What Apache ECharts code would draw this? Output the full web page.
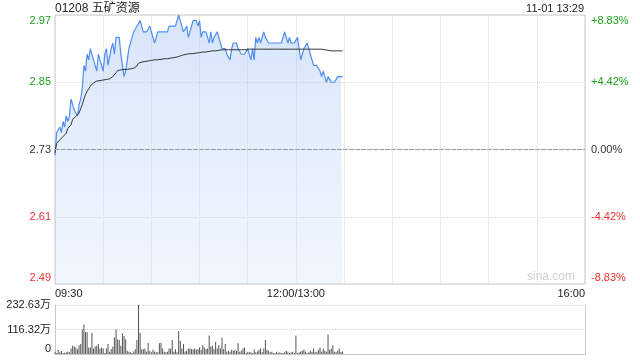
<!DOCTYPE html>
<html><head><meta charset="utf-8">
<script src="https://cdn.jsdelivr.net/npm/echarts@6/dist/echarts.min.js"></script>
<style>html,body{margin:0;padding:0;background:#fff}#c{width:640px;height:360px}</style>
</head><body><div id="c"></div>
<script>
const titleText = '01208 五矿资源';
const dateText = '11-01 13:29';
const prevClose = 2.73;
const axisMin = 2.49, axisMax = 2.97;
const leftTickLabels = ['2.49','2.61','2.73','2.85','2.97'];
const rightTickLabels = ['-8.83%','-4.42%','0.00%','+4.42%','+8.83%'];
const xTickLabels = ['09:30','','','','','12:00/13:00','','','','','','16:00'];
const volTickLabels = ['0','116.32万','232.63万'];
const volMax = 232.63;
const totalMinutes = 330;

const prices = [
2.72,2.76,2.76,2.77,2.76,2.78,2.77,2.79,2.78,2.79,
2.82,2.81,2.80,2.80,2.79,2.81,2.82,2.84,2.88,2.87,
2.90,2.89,2.91,2.91,2.89,2.88,2.87,2.90,2.89,2.88,
2.87,2.90,2.91,2.88,2.88,2.91,2.92,2.90,2.93,2.93,
2.93,2.90,2.88,2.86,2.87,2.89,2.91,2.92,2.93,2.94,
2.94,2.95,2.95,2.96,2.95,2.94,2.94,2.94,2.94,2.95,
2.94,2.93,2.92,2.93,2.94,2.94,2.94,2.94,2.94,2.94,
2.94,2.95,2.95,2.95,2.95,2.95,2.95,2.97,2.96,2.95,
2.94,2.94,2.95,2.93,2.94,2.95,2.96,2.96,2.96,2.95,
2.96,2.93,2.94,2.94,2.94,2.93,2.92,2.94,2.92,2.93,
2.93,2.94,2.93,2.93,2.91,2.91,2.91,2.90,2.90,2.89,
2.91,2.92,2.92,2.92,2.91,2.91,2.90,2.90,2.90,2.90,
2.91,2.90,2.89,2.91,2.89,2.93,2.92,2.93,2.92,2.93,
2.94,2.93,2.93,2.92,2.92,2.92,2.92,2.92,2.92,2.92,
2.92,2.92,2.92,2.94,2.93,2.92,2.93,2.92,2.92,2.92,
2.92,2.93,2.91,2.89,2.89,2.91,2.91,2.92,2.91,2.90,
2.89,2.88,2.88,2.88,2.88,2.87,2.86,2.87,2.86,2.85,
2.86,2.86,2.85,2.85,2.85,2.85,2.86,2.86,2.86,2.86
];

const avgPrices = [
2.724,2.741,2.744,2.747,2.750,2.753,2.756,2.759,2.768,2.771,
2.774,2.784,2.787,2.789,2.792,2.795,2.803,2.810,2.820,2.828,
2.834,2.838,2.843,2.846,2.849,2.851,2.852,2.852,2.853,2.853,
2.854,2.854,2.855,2.855,2.856,2.857,2.860,2.863,2.867,2.871,
2.872,2.872,2.872,2.873,2.873,2.873,2.874,2.874,2.875,2.875,
2.876,2.879,2.884,2.885,2.886,2.887,2.887,2.888,2.888,2.889,
2.889,2.889,2.890,2.890,2.890,2.891,2.891,2.891,2.892,2.892,
2.892,2.893,2.893,2.893,2.894,2.894,2.895,2.896,2.897,2.898,
2.899,2.899,2.900,2.900,2.901,2.901,2.901,2.902,2.902,2.903,
2.903,2.903,2.904,2.904,2.904,2.905,2.905,2.905,2.906,2.906,
2.906,2.907,2.907,2.907,2.908,2.908,2.908,2.908,2.908,2.908,
2.908,2.908,2.908,2.908,2.908,2.908,2.908,2.908,2.908,2.908,
2.909,2.909,2.909,2.909,2.909,2.909,2.909,2.909,2.909,2.909,
2.909,2.909,2.909,2.909,2.909,2.909,2.909,2.909,2.909,2.909,
2.909,2.909,2.909,2.909,2.909,2.909,2.909,2.909,2.909,2.909,
2.909,2.909,2.909,2.909,2.909,2.909,2.909,2.909,2.909,2.909,
2.909,2.909,2.909,2.909,2.909,2.909,2.909,2.909,2.908,2.908,
2.907,2.907,2.906,2.906,2.906,2.906,2.906,2.906,2.906,2.906
];

const volumes = [
11,5,19,8,14,5,6,8,11,8,
26,39,36,31,23,42,47,116,140,104,
104,31,31,101,26,36,39,47,26,31,
26,5,26,47,11,23,36,78,116,70,
67,39,98,85,70,16,11,8,5,12,
23,67,232.63,101,23,23,26,11,54,16,
8,20,12,8,8,51,54,26,11,8,
11,26,26,67,11,23,8,109,62,26,
47,12,16,26,26,23,23,26,20,23,
31,20,42,31,23,26,88,36,39,23,
57,26,42,26,78,23,47,11,16,11,
20,16,20,14,51,11,16,26,31,5,
11,8,8,5,23,8,12,20,26,8,
26,67,20,16,8,11,5,5,11,5,
8,5,5,8,16,11,5,8,11,5,
88,5,8,12,16,20,11,5,8,16,
11,26,8,11,20,31,11,26,16,11,
93,20,26,42,11,8,16,26,10,12
];

const green = '#1ba01b', red = '#f03030', dark = '#333';
const FONT = "'Liberation Sans','Noto Sans CJK SC',sans-serif";

const priceSeries = prices.map((p, i) => [i, +(p - axisMin).toFixed(4)]);
const avgSeries = avgPrices.map((p, i) => [i, +(p - axisMin).toFixed(4)]);
const volSeries = volumes.map((v, i) => [i, v]);
const span = +(axisMax - axisMin).toFixed(4);
const step = +(span / 4).toFixed(4);

function richFor(colors) {
  return {
    top: {color: colors[4], fontSize: 11, fontFamily: FONT, padding: [12,0,0,0]},
    up: {color: colors[3], fontSize: 11, fontFamily: FONT},
    mid: {color: colors[2], fontSize: 11, fontFamily: FONT},
    dn: {color: colors[1], fontSize: 11, fontFamily: FONT},
    bot: {color: colors[0], fontSize: 11, fontFamily: FONT, padding: [0,0,12,0]}
  };
}
const keys = ['bot','dn','mid','up','top'];
const tickColors = [red, red, dark, green, green];

const chart = echarts.init(document.getElementById('c'), null, {renderer: 'canvas'});
chart.setOption({
  animation: false,
  backgroundColor: '#fff',
  textStyle: {fontFamily: FONT},
  title: [
    {text: titleText, left: 55, top: 3, padding: 0, textStyle: {fontSize: 12, fontWeight: 'normal', color: '#222', fontFamily: FONT}},
    {text: dateText, right: 56, top: 3, padding: 0, textStyle: {fontSize: 11, fontWeight: 'normal', color: '#222', fontFamily: FONT}}
  ],
  graphic: [
    {type: 'text', left: 527, top: 271, style: {text: 'sina.com', fill: '#cfcfcf', font: "12px 'Liberation Sans'"}, silent: true}
  ],
  grid: [
    {left: 55, right: 55, top: 15, height: 269, show: true, borderColor: '#c8c8c8', borderWidth: 1},
    {left: 55, right: 55, top: 305, height: 49, show: false}
  ],
  xAxis: [
    {type: 'value', gridIndex: 0, min: 0, max: totalMinutes, interval: 30,
     axisLine: {show: false}, axisTick: {show: false},
     splitLine: {show: true, lineStyle: {color: '#d8d8d8', type: 'dotted'}},
     axisLabel: {margin: 4, fontSize: 11, color: '#222', fontFamily: FONT,
       alignMinLabel: 'left', alignMaxLabel: 'right',
       formatter: (v, i) => xTickLabels[Math.round(v / 30)] || ''}},
    {type: 'value', gridIndex: 1, min: 0, max: totalMinutes, interval: 30,
     axisLine: {show: true, lineStyle: {color: '#c8c8c8'}}, axisTick: {show: false},
     splitLine: {show: false}, minorSplitLine: {show: false}, axisLabel: {show: false}}
  ],
  yAxis: [
    {type: 'value', gridIndex: 0, min: 0, max: span, interval: step, position: 'left',
     axisLine: {show: false}, axisTick: {show: false},
     splitLine: {show: true, lineStyle: {color: ['#dcdcdc','#dcdcdc','#999','#dcdcdc','#dcdcdc'], type: 'dotted'}},
     axisLabel: {margin: 4, formatter: (v, i) => {
        const k = Math.round(v / step); return '{' + keys[k] + '|' + leftTickLabels[k] + '}';
      }, rich: richFor(tickColors)}},
    {type: 'value', gridIndex: 0, min: 0, max: span, interval: step, position: 'right',
     axisLine: {show: false}, axisTick: {show: false}, splitLine: {show: false},
     axisLabel: {margin: 6, formatter: (v, i) => {
        const k = Math.round(v / step); return '{' + keys[k] + '|' + rightTickLabels[k] + '}';
      }, rich: richFor(tickColors)}},
    {type: 'value', gridIndex: 1, min: 0, max: volMax, interval: volMax / 2, position: 'left',
     axisLine: {show: true, lineStyle: {color: '#c8c8c8'}}, axisTick: {show: false},
     splitLine: {show: true, lineStyle: {color: '#d0d0d0', type: 'dotted'}},
     axisLabel: {margin: 4, formatter: (v, i) => {
        const k = Math.round(v / (volMax / 2));
        return k === 0 ? '{bot|' + volTickLabels[0] + '}' : '{mid|' + volTickLabels[k] + '}';
      }, rich: {
        bot: {color: '#222', fontSize: 11, fontFamily: FONT, padding: [0,0,10,0]},
        mid: {color: '#222', fontSize: 11, fontFamily: FONT}
      }}},
    {type: 'value', gridIndex: 1, min: 0, max: volMax, interval: volMax / 2, position: 'right',
     axisLine: {show: true, lineStyle: {color: '#c8c8c8'}}, axisTick: {show: false},
     splitLine: {show: false}, axisLabel: {show: false}}
  ],
  series: [
    {type: 'line', xAxisIndex: 0, yAxisIndex: 0, data: priceSeries, showSymbol: false, silent: true,
     lineStyle: {color: '#4f8ef0', width: 1.2},
     areaStyle: {origin: 'start', color: new echarts.graphic.LinearGradient(0, 0, 0, 1, [
       {offset: 0, color: 'rgba(140,180,240,0.5)'}, {offset: 1, color: 'rgba(190,212,248,0.3)'}])},
     markLine: {silent: true, symbol: 'none', label: {show: false},
       lineStyle: {color: '#999', type: [4, 2], width: 1},
       data: [{yAxis: +(prevClose - axisMin).toFixed(4)}]}},
    {type: 'line', xAxisIndex: 0, yAxisIndex: 0, data: avgSeries, showSymbol: false, silent: true,
     lineStyle: {color: '#333', width: 1}},
    {type: 'bar', xAxisIndex: 1, yAxisIndex: 2, data: volSeries, barWidth: 1, silent: true,
     itemStyle: {color: '#555'}}
  ]
});
</script></body></html>
